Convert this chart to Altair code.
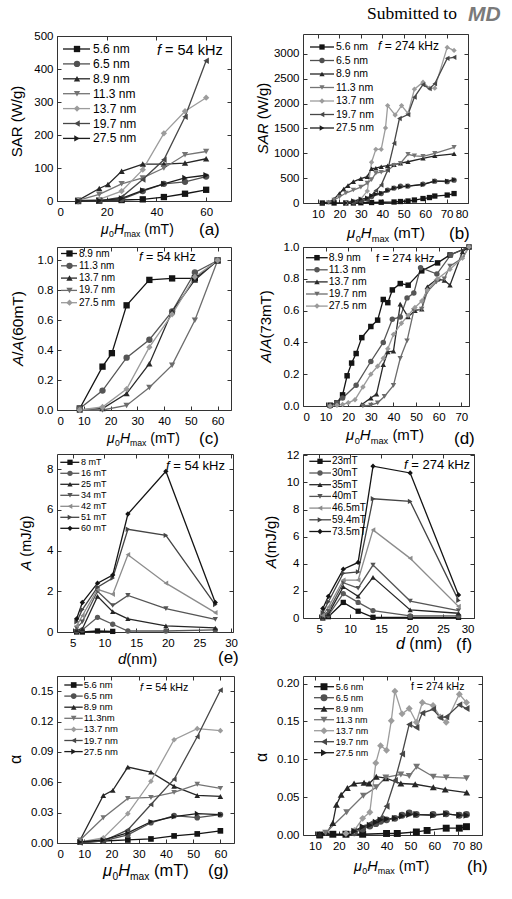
import altair as alt
import pandas as pd

FONT = "Liberation Sans"
SERIF = "Liberation Serif"

# ---------------- data ----------------
NM = ["5.6 nm", "6.5 nm", "8.9 nm", "11.3 nm", "13.7 nm", "19.7 nm", "27.5 nm"]
NM_G = ["5.6 nm", "6.5 nm", "8.9 nm", "11.3nm", "13.7 nm", "19.7 nm", "27.5 nm"]
NM5 = ["8.9 nm", "11.3 nm", "13.7 nm", "19.7 nm", "27.5 nm"]
MT54 = ["8 mT", "16 mT", "25 mT", "34 mT", "42 mT", "51 mT", "60 mT"]
MT274 = ["23mT", "30mT", "35mT", "40mT", "46.5mT", "59.4mT", "73.5mT"]
D_NM = [5.6, 6.5, 8.9, 11.3, 13.7, 19.7, 27.5]

H54 = [8.5, 17, 26, 34.5, 43, 51.5, 60]
H54B = [8.5, 17, 20.5, 26, 34.5, 43, 51.5, 60]

# (a) SAR, 54 kHz
SAR54_X = [H54, H54, H54B, H54, H54, H54, H54]
SAR54_Y = [
    [0, 1, 3, 5, 12, 22, 34],
    [0, 1, 5, 30, 52, 58, 74],
    [2, 38, 50, 90, 112, 112, 115, 128],
    [2, 20, 52, 70, 100, 140, 150],
    [2, 5, 30, 95, 205, 272, 313],
    [0, 0, 12, 65, 125, 255, 425],
    [0, 1, 8, 32, 52, 70, 78],
]

# (b) SAR, 274 kHz
SAR274_X = [
    [12, 17.5, 23, 26.5, 30, 35, 39.5, 45.5, 48.5, 52, 55, 59, 62, 64.5, 70.3, 73.5],
    [26.5, 30, 33, 35, 39.5, 42.5, 45.5, 48.5, 52, 59, 64.5, 70.3, 73.5],
    [12, 15, 17.5, 20, 22, 24, 26.5, 30, 33, 35, 37, 39.5, 42.5, 45.5, 48.5, 52, 59, 64.5, 73.5],
    [15, 17.5, 20, 23, 26.5, 30, 33, 35, 37, 39.5, 42.5, 45.5, 48.5, 52, 55, 59, 64.5, 73.5],
    [23, 26.5, 30, 33, 35, 37, 39.5, 41.5, 42.5, 46, 49, 52, 55, 59, 62, 64.5, 70.3, 73.5],
    [26.5, 30, 33, 35, 37, 39.5, 42.5, 45.5, 48, 52, 55, 59, 62, 64.5, 70.3, 73.5],
    [23, 26.5, 30, 33, 35, 37, 39.5, 42.5, 45.5, 48.5, 52, 59, 64.5, 70.3, 73.5],
]
SAR274_Y = [
    [0, 0, 0, 0, 5, 10, 15, 20, 30, 40, 60, 90, 110, 140, 160, 190],
    [20, 50, 80, 130, 190, 260, 300, 340, 340, 380, 440, 430, 460],
    [0, 20, 80, 190, 280, 350, 430, 490, 530, 690, 700, 730, 750, 770, 800, 830, 900, 950, 990],
    [10, 60, 120, 200, 260, 320, 400, 470, 600, 620, 650, 760, 800, 980, 950, 940, 1000, 1120],
    [0, 30, 80, 240, 820, 1080, 1080, 1510, 1960, 1770, 1960, 1800, 2290, 2430, 2310, 2310, 3130, 3070],
    [10, 30, 60, 150, 250, 360, 660, 1200, 1700, 1780, 2130, 2380, 2300, 2400, 2910, 2930],
    [0, 40, 80, 100, 150, 180, 200, 250, 300, 320, 340, 370, 440, 440, 470],
]

# (c) A/A(60mT), 54 kHz
AN54_X = [H54B, H54, H54, H54, H54]
AN54_Y = [
    [0.01, 0.29, 0.38, 0.70, 0.87, 0.88, 0.88, 1.0],
    [0.01, 0.13, 0.35, 0.47, 0.66, 0.92, 1.0],
    [0.0, 0.01, 0.11, 0.31, 0.66, 0.87, 1.0],
    [0.0, 0.0, 0.03, 0.15, 0.30, 0.60, 1.0],
    [0.0, 0.02, 0.14, 0.42, 0.64, 0.89, 1.0],
]

# (d) A/A(73mT), 274 kHz
AN274_X = [
    [12, 15, 17.5, 19.5, 21.5, 23.5, 26, 30, 33, 35.5, 37.5, 39.5, 43, 46.5, 52.5, 59.5, 65, 73.4],
    [12, 15, 17.5, 23.5, 30, 35.5, 39.5, 43, 46, 49, 52, 59.2, 65.3, 73.4],
    [26, 30, 32.5, 35.5, 37.5, 40, 43, 46.5, 49.5, 52.5, 55, 59.5, 62.5, 65, 70.5, 73.4],
    [26.5, 30, 33, 36, 40, 43, 46, 49, 52.5, 55, 59, 62.5, 65, 70.5, 73.4],
    [12, 15, 17.5, 20, 23, 26.5, 30, 33, 35.5, 37.5, 40, 43.5, 46.5, 49.5, 52.5, 55, 59.5, 65, 70.5, 73.4],
]
AN274_Y = [
    [0.005, 0.02, 0.07, 0.19, 0.27, 0.33, 0.43, 0.50, 0.54, 0.67, 0.65, 0.73, 0.77, 0.76, 0.85, 0.90, 0.95, 1.0],
    [0.0, 0.02, 0.05, 0.13, 0.28, 0.40, 0.545, 0.56, 0.68, 0.71, 0.87, 0.83, 0.95, 1.0],
    [0.01, 0.05, 0.075, 0.26, 0.34, 0.345, 0.64, 0.56, 0.60, 0.61, 0.75, 0.80, 0.79, 0.76, 0.97, 1.0],
    [0.0, 0.005, 0.02, 0.06, 0.13, 0.30, 0.41, 0.60, 0.61, 0.72, 0.78, 0.80, 0.88, 0.93, 1.0],
    [0.0, 0.005, 0.01, 0.02, 0.04, 0.12, 0.20, 0.25, 0.30, 0.36, 0.45, 0.52, 0.57, 0.62, 0.66, 0.73, 0.80, 0.86, 0.93, 1.0],
]

# (e) A vs d, 54 kHz
A54_X = [[5.6, 6.5, 8.9, 11.3]] + [D_NM] * 6
A54_Y = [
    [0.0, 0.0, 0.05, 0.03],
    [0.05, 0.1, 0.72, 0.38, 0.05, 0.05, 0.1],
    [0.1, 0.15, 1.75, 1.0, 0.65, 0.3, 0.2],
    [0.2, 0.5, 2.0, 1.3, 1.8, 1.15, 0.62],
    [0.3, 0.8, 2.1, 1.85, 3.8, 2.4, 0.95],
    [0.5, 1.1, 2.2, 2.65, 5.05, 4.75, 1.35],
    [0.65, 1.45, 2.4, 2.8, 5.8, 7.9, 1.45],
]

# (f) A vs d, 274 kHz
A274_X = [D_NM] * 7
A274_Y = [
    [0.0, 0.1, 1.15, 0.5, 0.05, 0.05, 0.05],
    [0.05, 0.2, 1.8, 1.15, 0.55, 0.15, 0.15],
    [0.1, 0.3, 2.3, 1.6, 3.0, 0.6, 0.35],
    [0.15, 0.5, 2.6, 2.2, 3.9, 1.25, 0.55],
    [0.2, 0.8, 2.8, 2.8, 6.5, 4.4, 0.85],
    [0.4, 1.2, 3.3, 3.4, 8.8, 8.6, 1.3],
    [0.7, 1.6, 3.6, 4.1, 11.2, 10.7, 1.7],
]

# (g) alpha, 54 kHz
AL54_X = [H54, H54, H54B, H54, H54, H54, H54]
AL54_Y = [
    [0.001, 0.002, 0.003, 0.004, 0.007, 0.009, 0.012],
    [0.001, 0.002, 0.008, 0.020, 0.027, 0.025, 0.028],
    [0.003, 0.047, 0.052, 0.075, 0.070, 0.056, 0.047, 0.046],
    [0.003, 0.025, 0.044, 0.045, 0.050, 0.058, 0.054],
    [0.001, 0.005, 0.029, 0.061, 0.102, 0.113, 0.111],
    [0.000, 0.002, 0.013, 0.038, 0.063, 0.105, 0.151],
    [0.001, 0.003, 0.010, 0.021, 0.026, 0.029, 0.028],
]

# (h) alpha, 274 kHz
AL274_X = [
    [12, 17.5, 23, 30, 40, 44.5, 52.5, 57, 65, 70.5, 73.5],
    [26.5, 30, 33, 35.5, 37.5, 40, 43.5, 46.5, 49.5, 52.5, 59.5, 65, 70.5, 73.5],
    [12, 15, 17.5, 19, 21, 23.6, 26.4, 30.6, 32.7, 35.7, 39.7, 46, 52, 59.6, 64.6, 73.6],
    [14.5, 23.3, 30.3, 35.7, 39.7, 46, 49.5, 52.6, 59.6, 65, 73.5],
    [23, 26.5, 30, 33, 35.5, 37.5, 40, 42, 43.5, 46.5, 49.5, 52.5, 55, 59.5, 62.5, 65, 70.5, 73.5],
    [26.5, 30, 33, 35.5, 37.5, 40, 43.5, 46.5, 49.5, 52.5, 55, 59.5, 62.5, 65, 70.5, 73.5],
    [26.5, 30, 33, 35.5, 37.5, 40, 43.5, 46.5, 49.5, 52.5, 59.5, 65, 70.5, 73.5],
]
AL274_Y = [
    [0.0, 0.001, 0.001, 0.001, 0.002, 0.002, 0.004, 0.006, 0.009, 0.009, 0.011],
    [0.003, 0.008, 0.012, 0.015, 0.018, 0.020, 0.022, 0.026, 0.029, 0.027, 0.027, 0.028, 0.026, 0.027],
    [0.001, 0.003, 0.016, 0.040, 0.053, 0.062, 0.068, 0.069, 0.068, 0.077, 0.075, 0.068, 0.067, 0.063, 0.060, 0.056],
    [0.003, 0.030, 0.052, 0.063, 0.076, 0.080, 0.078, 0.090, 0.077, 0.076, 0.075],
    [0.002, 0.006, 0.022, 0.030, 0.095, 0.118, 0.112, 0.151, 0.190, 0.160, 0.167, 0.149, 0.175, 0.171, 0.156, 0.149, 0.186, 0.175],
    [0.005, 0.010, 0.015, 0.018, 0.022, 0.038, 0.072, 0.107, 0.146, 0.142, 0.161, 0.166, 0.155, 0.156, 0.172, 0.167],
    [0.005, 0.011, 0.013, 0.017, 0.020, 0.021, 0.022, 0.025, 0.027, 0.027, 0.026, 0.028, 0.026, 0.026],
]

# ---------------- styles ----------------
SH7 = ["square", "circle", "triangle-up", "triangle-down", "diamond", "triangle-left", "triangle-right"]
CO7 = ["#141414", "#505050", "#262626", "#747474", "#9c9c9c", "#474747", "#1c1c1c"]
SH5 = ["square", "circle", "triangle-up", "triangle-down", "diamond"]
CO5 = ["#141414", "#565656", "#2a2a2a", "#6c6c6c", "#9a9a9a"]
SH_E = ["square", "circle", "triangle-up", "triangle-down", "triangle-left", "triangle-right", "diamond"]
CO_E = ["#141414", "#5a5a5a", "#262626", "#555555", "#8c8c8c", "#444444", "#141414"]

W = {" ": 278, "(": 333, ")": 333, "/": 278, "=": 584, ".": 278,
     "A": 667, "D": 722, "H": 722, "J": 500, "M": 833, "R": 722, "S": 667, "T": 611, "W": 944,
     "a": 556, "d": 556, "f": 278, "g": 556, "k": 500, "m": 833, "n": 556, "x": 500, "z": 500,
     "μ": 576, "α": 578}


def tw(s, fs):
    return sum(W.get(c, 556) for c in s) * fs / 1000.0


def runs(parts, x, cy, fs, vertical=False, anchor="start", color="black", font=FONT, weight="normal"):
    items, total = [], 0.0
    for t, st in parts:
        f = fs * 0.62 if st == "s" else fs
        lead = len(t) - len(t.lstrip(" "))
        total += tw(" " * lead, f)
        items.append((t.lstrip(" "), st, f, total))
        total += tw(t.lstrip(" "), f)
    start = -total / 2 if anchor == "center" else 0.0
    out = []
    for t, st, f, off in items:
        shift = fs * 0.22 if st == "s" else 0.0
        if vertical:
            px = x + 0.36 * fs + shift
            py = cy - (start + off)
        else:
            px = x + start + off
            py = cy + 0.36 * fs + shift
        kw = dict(align="left", baseline="alphabetic", font=font, fontSize=f,
                  fontStyle="italic" if st in ("i", "bi") else "normal",
                  fontWeight="bold" if st == "bi" else weight, color=color)
        if vertical:
            kw["angle"] = 270
        out.append(alt.Chart(pd.DataFrame({"t": [t]})).mark_text(**kw).encode(
            x=alt.value(px), y=alt.value(py), text="t:N"))
    return out


MU = [("μ", "i"), ("0", "s"), ("H", "i"), ("max", "s"), (" (mT)", "n")]


def frame(names, xs, ys):
    rows = []
    for n, xl, yl in zip(names, xs, ys):
        for a, b in zip(xl, yl):
            rows.append({"s": n, "x": a, "y": b})
    return pd.DataFrame(rows)


def panel(names, xs_, ys_, shapes, colors, xdom, ydom, xt, yt, yfmt, w, h, msize, leg, texts):
    df = frame(names, xs_, ys_)
    xs = alt.Scale(domain=xdom, nice=False, zero=False)
    ys = alt.Scale(domain=ydom, nice=False, zero=False)
    col = alt.Color("s:N", scale=alt.Scale(domain=names, range=colors), legend=None)
    shp = alt.Shape("s:N", scale=alt.Scale(domain=names, range=shapes), legend=None)
    base = alt.Chart(df)
    lines = base.mark_line(strokeWidth=1.3).encode(
        x=alt.X("x:Q", scale=xs, axis=alt.Axis(orient="bottom", values=xt, title=None, domain=False,
                                               offset=-4, tickSize=4, labelPadding=5, grid=False)),
        y=alt.Y("y:Q", scale=ys, axis=alt.Axis(orient="left", values=yt, title=None, format=yfmt,
                                               domain=False, offset=-4, tickSize=4, labelPadding=4, grid=False)),
        color=col, detail="s:N")
    pts = base.mark_point(filled=True, opacity=1, size=msize).encode(
        x=alt.X("x:Q", scale=xs, axis=alt.Axis(orient="top", values=xt, title=None, labels=False,
                                               domain=False, offset=-4, tickSize=4, grid=False)),
        y=alt.Y("y:Q", scale=ys, axis=alt.Axis(orient="right", values=yt, title=None, labels=False,
                                               domain=False, offset=-4, tickSize=4, grid=False)),
        color=col, shape=shp)
    n = len(names)
    ldf = pd.DataFrame({"s": names, "r": list(range(n))})
    ly = alt.Y("r:Q", scale=alt.Scale(domain=[0, n - 1], range=[leg["y0"], leg["y0"] + leg["dy"] * (n - 1)]),
               axis=None)
    lb = alt.Chart(ldf)
    lrule = lb.mark_rule(strokeWidth=1.3).encode(x=alt.value(leg["x1"]), x2=alt.value(leg["x2"]), y=ly, color=col)
    lpt = lb.mark_point(filled=True, opacity=1, size=msize).encode(x=alt.value(leg["xm"]), y=ly, color=col, shape=shp)
    ltx = lb.mark_text(align="left", baseline="middle", font=FONT, fontSize=leg["fs"], color="black").encode(
        x=alt.value(leg["xt"]), y=ly, text="s:N")
    return alt.layer(lines, pts, lrule, lpt, ltx, *texts).resolve_scale(y="independent").resolve_axis(
        x="independent", y="independent").properties(width=w, height=h)


# (a)
h = 165
pa = panel(NM, SAR54_X, SAR54_Y, SH7, CO7, [0, 70], [0, 500], [0, 20, 40, 60], [0, 100, 200, 300, 400, 500], "d",
           174, h, 40, dict(y0=13, dy=14.9, x1=6, x2=33, xm=20, xt=36, fs=12),
           runs([("f", "i"), (" = 54 kHz", "n")], 100, 14, 14.5)
           + runs(MU, 44, h + 28, 14) + runs([("(a)", "n")], 142, h + 28, 17)
           + runs([("SAR (W/g)", "n")], -40, h / 2 + 3, 15, vertical=True, anchor="center"))
# (b)
h = 169
pb = panel(NM, SAR274_X, SAR274_Y, SH7, CO7, [3, 80], [0, 3400], list(range(10, 81, 10)),
           [0, 500, 1000, 1500, 2000, 2500, 3000], "d",
           165, h, 28, dict(y0=13, dy=13.5, x1=7, x2=31, xm=19, xt=33, fs=10.5),
           runs([("f", "i"), (" = 274 kHz", "n")], 75, 12, 12)
           + runs(MU, 44, h + 30, 15) + runs([("(b)", "n")], 146, h + 30, 17)
           + runs([("SAR", "i"), (" (W/g)", "n")], -40, h / 2, 15, vertical=True, anchor="center")
           + runs([("Submitted to", "n")], 64, -21, 17.5, font=SERIF)
           + runs([("MD", "bi")], 165, -21, 21, color="#7a7a7a"))
# (c)
h = 163
pc = panel(NM5, AN54_X, AN54_Y, SH5, CO5, [0, 65], [0, 1.09], list(range(0, 61, 10)),
           [0, 0.2, 0.4, 0.6, 0.8, 1.0], ".1f",
           174, h, 40, dict(y0=6.5, dy=12.3, x1=4, x2=20, xm=12.5, xt=22, fs=10),
           runs([("f", "i"), (" = 54 kHz", "n")], 82, 9, 12.5)
           + runs(MU, 50, h + 28, 14) + runs([("(c)", "n")], 142, h + 28, 17)
           + runs([("A", "i"), ("/", "n"), ("A", "i"), ("(60mT)", "n")], -40, h / 2, 15.5, vertical=True,
                  anchor="center"))
# (d)
h = 159
pd_ = panel(NM5, AN274_X, AN274_Y, SH5, CO5, [0, 73.4], [0, 1.0], list(range(0, 71, 10)),
            [0, 0.2, 0.4, 0.6, 0.8, 1.0], ".1f",
            166, h, 30, dict(y0=10.7, dy=12.1, x1=3, x2=24.7, xm=14, xt=25.7, fs=10.5),
            runs([("f = 274 kHz", "n")], 73, 10.7, 11.5)
            + runs(MU, 43, h + 29, 15) + runs([("(d)", "n")], 151, h + 32, 17)
            + runs([("A", "i"), ("/", "n"), ("A", "i"), ("(73mT)", "n")], -37, h / 2, 15, vertical=True,
                   anchor="center"))
# (e)
h = 178
pe = panel(MT54, A54_X, A54_Y, SH_E, CO_E, [2.5, 30.3], [0, 8.75], [5, 10, 15, 20, 25, 30], [0, 2, 4, 6, 8], "d",
           176, h, 28, dict(y0=8.3, dy=11, x1=3.3, x2=22.3, xm=13, xt=24, fs=9),
           runs([("f", "i"), (" = 54 kHz", "n")], 109, 11, 13)
           + runs([("d", "i"), ("(nm)", "n")], 61, h + 27, 15) + runs([("(e)", "n")], 161, h + 25, 17)
           + runs([("A", "i"), (" (mJ/g)", "n")], -31, h / 2, 14.5, vertical=True, anchor="center"))
# (f)
h = 164
pf = panel(MT274, A274_X, A274_Y, SH_E, CO_E, [2.4, 30], [0, 12.1], [5, 10, 15, 20, 25, 30],
           [0, 2, 4, 6, 8, 10, 12], "d",
           171, h, 28, dict(y0=7.3, dy=11.7, x1=6.3, x2=28, xm=17, xt=29, fs=10),
           runs([("f", "i"), (" = 274 kHz", "n")], 101, 10.3, 13)
           + runs([("d", "i"), (" (nm)", "n")], 93, h + 25, 16) + runs([("(f)", "n")], 153, h + 26, 17)
           + runs([("A", "i"), ("(mJ/g)", "n")], -32, 88, 15, vertical=True, anchor="center"))
# (g)
h = 167
pg = panel(NM_G, AL54_X, AL54_Y, SH7, CO7, [0, 65], [0, 0.165], list(range(0, 61, 10)),
           [0, 0.03, 0.06, 0.09, 0.12, 0.15], ".2f",
           177, h, 32, dict(y0=9, dy=11.1, x1=7.3, x2=25.7, xm=16.7, xt=26.7, fs=9.5),
           runs([("f", "i"), (" = 54 kHz", "n")], 83, 10.7, 10.7)
           + runs(MU, 46, h + 27, 16.5) + runs([("(g)", "n")], 151, h + 27, 17)
           + runs([("α", "n")], -42, h / 2, 16, vertical=True, anchor="center"))
# (h)
h = 159
ph = panel(NM, AL274_X, AL274_Y, SH7, CO7, [5, 80], [0, 0.21], list(range(10, 81, 10)),
           [0, 0.05, 0.10, 0.15, 0.20], ".2f",
           179, h, 48, dict(y0=10.7, dy=11, x1=11, x2=31, xm=21, xt=32.7, fs=9),
           runs([("f = 274 kHz", "n")], 108, 10.7, 10.5)
           + runs(MU, 51, h + 31, 14.5) + runs([("(h)", "n")], 164, h + 31, 17)
           + runs([("α", "n")], -42, h / 2 + 2, 16, vertical=True, anchor="center"))

chart = alt.concat(pa, pb, pc, pd_, pe, pf, pg, ph, columns=2,
                   spacing={"row": 44, "column": 69}, bounds="flush", align="each",
                   center={"row": True, "column": False}).resolve_scale(
    color="independent", shape="independent"
).properties(
    padding={"left": 7, "top": 3, "right": 2, "bottom": 2}
).configure_view(stroke="#333333", strokeWidth=1).configure_axis(
    labelFont=FONT, labelFontSize=11.5, labelColor="black", tickColor="#333333", tickWidth=1
)

chart.save("out.html", embed_options={"renderer": "svg", "actions": False})
